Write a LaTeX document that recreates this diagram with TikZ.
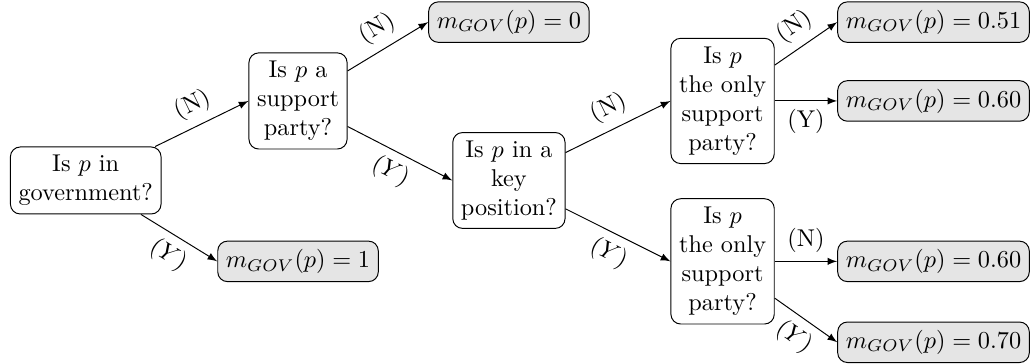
\documentclass[tikz,border=0pt]{standalone}
\tikzset{
  vopros/.style={draw, rounded corners, align=center},
  otvet/.style={draw, rounded corners, fill=black!10},
  strelka/.style={-latex}
}
\begin{document}
\begin{tikzpicture}
    \useasboundingbox (0,0) rectangle (14.91,5.26);
    % Вопросы
    \node[vopros] (gov) at (1.24, 2.65) {Is $p$ in\\government?};
    \node[vopros] (supp) at (4.31, 3.80) {Is $p$ a\\support\\party?};
    \node[vopros] (key) at (7.36, 2.65) {Is $p$ in a\\key\\position?};
    \node[vopros] (onlyN) at (10.45, 3.80) {Is $p$\\the only\\support\\party?};
    \node[vopros] (onlyY) at (10.45, 1.48) {Is $p$\\the only\\support\\party?};
    % Ответы
    \node[otvet] (m1) at (4.31, 1.48) {$m_{GOV}(p) = 1$};
    \node[otvet] (m0) at (7.36, 4.94) {$m_{GOV}(p) = 0$};
    \node[otvet] (m51) at (13.50, 4.94) {$m_{GOV}(p) = 0.51$};
    \node[otvet] (m60a) at (13.50, 3.80) {$m_{GOV}(p) = 0.60$};
    \node[otvet] (m60b) at (13.50, 1.48) {$m_{GOV}(p) = 0.60$};
    \node[otvet] (m70) at (13.50, 0.31) {$m_{GOV}(p) = 0.70$};
    % Стрелки
    \draw[strelka] (gov) -- (supp.west) node[midway, above, sloped] {(N)};
    \draw[strelka] (gov) -- (m1.west) node[midway, below, sloped] {$(Y)$};
    \draw[strelka] (supp) -- (m0.west) node[midway, above, sloped] {(N)};
    \draw[strelka] (supp) -- (key.west) node[midway, below, sloped] {$(Y)$};
    \draw[strelka] (key) -- (onlyN.west) node[midway, above, sloped] {(N)};
    \draw[strelka] (key) -- (onlyY.west) node[midway, below, sloped] {$(Y)$};
    \draw[strelka] (onlyN) -- (m51.west) node[midway, above, sloped] {(N)};
    \draw[strelka] (onlyN) -- (m60a.west) node[midway, below] {(Y)};
    \draw[strelka] (onlyY) -- (m60b.west) node[midway, above] {(N)};
    \draw[strelka] (onlyY) -- (m70.west) node[midway, below, sloped] {$(Y)$};
\end{tikzpicture}
\end{document}
